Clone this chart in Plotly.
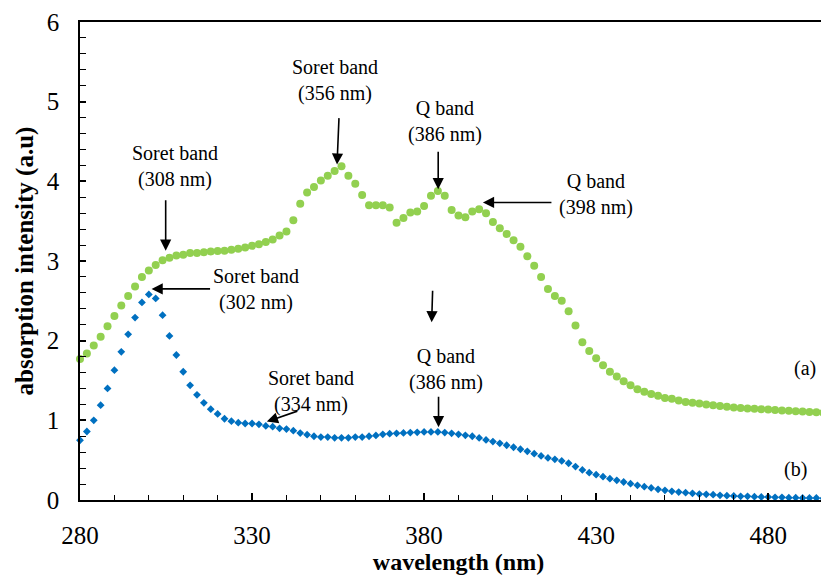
import plotly.graph_objects as go

wavelength = list(range(280, 500, 2))

series_a = [1.77, 1.84, 1.94, 2.05, 2.18, 2.31, 2.44, 2.56, 2.68, 2.80,
            2.88, 2.95, 3.01, 3.04, 3.07, 3.08, 3.10, 3.10, 3.11, 3.12,
            3.125, 3.13, 3.14, 3.155, 3.17, 3.19, 3.21, 3.24, 3.27, 3.32,
            3.37, 3.51, 3.72, 3.86, 3.93, 4.01, 4.07, 4.13, 4.19, 4.07,
            3.97, 3.83, 3.70, 3.70, 3.70, 3.67, 3.48, 3.54, 3.61, 3.62,
            3.69, 3.82, 3.88, 3.82, 3.64, 3.57, 3.55, 3.62, 3.65, 3.60,
            3.49, 3.41, 3.34, 3.26, 3.18, 3.06, 2.94, 2.80, 2.65, 2.56,
            2.50, 2.37, 2.19, 1.98, 1.87, 1.78, 1.69, 1.61, 1.55, 1.49,
            1.44, 1.39, 1.36, 1.33, 1.31, 1.28, 1.27, 1.25, 1.23, 1.22,
            1.21, 1.20, 1.19, 1.18, 1.17, 1.16, 1.155, 1.15, 1.146, 1.14,
            1.135, 1.13, 1.125, 1.12, 1.115, 1.11, 1.105, 1.10, 1.095, 1.09]

series_b = [0.75, 0.86, 1.00, 1.19, 1.40, 1.63, 1.86, 2.08, 2.29, 2.48,
            2.58, 2.53, 2.32, 2.06, 1.82, 1.61, 1.44, 1.32, 1.22, 1.14,
            1.08, 1.02, 0.99, 0.97, 0.96, 0.96, 0.95, 0.93, 0.92, 0.90,
            0.89, 0.87, 0.84, 0.82, 0.80, 0.79, 0.79, 0.78, 0.78, 0.78,
            0.79, 0.79, 0.80, 0.81, 0.825, 0.833, 0.837, 0.842, 0.846, 0.85,
            0.854, 0.854, 0.854, 0.846, 0.837, 0.825, 0.812, 0.80, 0.779, 0.754,
            0.733, 0.712, 0.687, 0.662, 0.637, 0.611, 0.582, 0.553, 0.528, 0.511,
            0.49, 0.461, 0.419, 0.377, 0.343, 0.318, 0.293, 0.268, 0.247, 0.226,
            0.205, 0.184, 0.167, 0.151, 0.134, 0.121, 0.109, 0.10, 0.092, 0.084,
            0.075, 0.071, 0.067, 0.059, 0.054, 0.05, 0.046, 0.046, 0.042, 0.038,
            0.038, 0.034, 0.034, 0.029, 0.029, 0.025, 0.025, 0.025, 0.021, 0.021]

x_ticks = [280, 330, 380, 430, 480]
y_ticks = [0, 1, 2, 3, 4, 5, 6]

# label text, label position (nm, a.u.)
labels = [
    ("Soret band<br>(356 nm)", 354.1, 5.26),
    ("Q band<br>(386 nm)", 386.1, 4.755),
    ("Q band<br>(398 nm)", 430.0, 3.838),
    ("Soret band<br>(308 nm)", 307.6, 4.19),
    ("Soret band<br>(302 nm)", 331.2, 2.645),
    ("Soret band<br>(334 nm)", 347.2, 1.363),
    ("Q band<br>(386 nm)", 386.4, 1.64),
    ("(a)", 490.8, 1.646),
    ("(b)", 487.8, 0.377),
]
# arrow heads (nm, a.u.) and tail offsets (px)
arrows = [
    (354.7, 4.21, 2, -48),
    (384.1, 3.90, 0, -39),
    (397.1, 3.735, 70, 0),
    (304.9, 3.13, 0, -52),
    (300.8, 2.65, 60, 0),
    (382.2, 2.23, 1, -33),
    (334.3, 0.984, 32, -11),
    (384.2, 0.913, 0, -32),
]

SERIF = "Liberation Serif, Times New Roman, serif"

fig = go.Figure()
fig.add_trace(go.Scatter(x=wavelength, y=series_a, mode="markers", name="(a)",
                         marker=dict(symbol="circle", size=8, color="#92D050"),
                         cliponaxis=False))
fig.add_trace(go.Scatter(x=wavelength, y=series_b, mode="markers", name="(b)",
                         marker=dict(symbol="diamond", size=6, color="#0070C0"),
                         cliponaxis=False))

for text, lx, ly in labels:
    fig.add_annotation(x=lx, y=ly, text=text, showarrow=False,
                       font=dict(family=SERIF, size=20, color="black"))
for hx, hy, ax, ay in arrows:
    fig.add_annotation(x=hx, y=hy, ax=ax, ay=ay, text="", showarrow=True,
                       arrowhead=2, arrowsize=1.4, arrowwidth=1.6,
                       arrowcolor="black")

# the page body has an 8px margin, so the figure is offset by 8px in the screenshot
fig.update_layout(
    width=829, height=576,
    margin=dict(l=72, r=0, t=14, b=84, autoexpand=False),
    paper_bgcolor="white", plot_bgcolor="white",
    showlegend=False,
    font=dict(family=SERIF, color="black"),
    xaxis=dict(range=[280, 500], tickvals=x_ticks, ticktext=[str(v) for v in x_ticks],
               automargin=False,
               ticks="inside", ticklen=7, tickwidth=1.5, tickcolor="black",
               minor=dict(ticks="inside", ticklen=5, dtick=10, tick0=280, tickcolor="black", tickwidth=1.2),
               showline=True, linecolor="black", linewidth=1.5, mirror=True,
               showgrid=False, zeroline=False,
               tickfont=dict(family=SERIF, size=25, color="black"),
               ticklabelstandoff=12,
               title=dict(text="<b>wavelength (nm)</b>", standoff=0,
                          font=dict(family=SERIF, size=24, color="black"))),
    yaxis=dict(range=[0, 6], tickvals=y_ticks,
               automargin=False,
               ticks="inside", ticklen=6, tickwidth=1.5, tickcolor="black",
               minor=dict(ticks="inside", ticklen=6, dtick=0.2, tick0=0, tickcolor="black", tickwidth=1.2),
               showline=True, linecolor="black", linewidth=1.5,
               showgrid=False, zeroline=False,
               tickfont=dict(family=SERIF, size=25, color="black"),
               ticklabelstandoff=14,
               title=dict(text="<b>absorption intensity (a.u)</b>", standoff=6,
                          font=dict(family=SERIF, size=25, color="black"))),
)

fig.write_html("out.html")
